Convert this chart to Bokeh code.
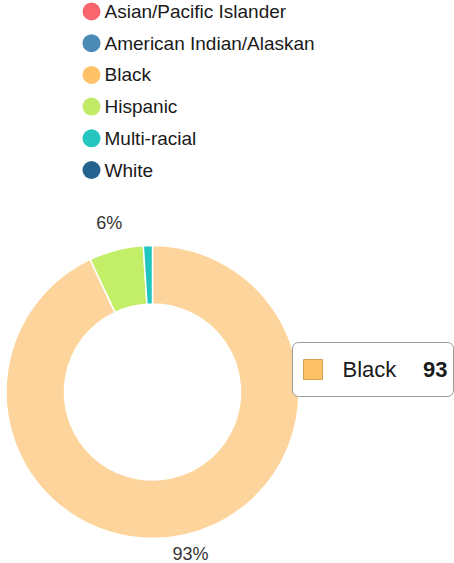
import numpy as np
from bokeh.plotting import figure
from bokeh.models import Range1d
from bokeh.core.properties import value
from bokeh.embed import file_html
from bokeh.resources import INLINE

# ---- data ----
categories = ["Asian/Pacific Islander", "American Indian/Alaskan", "Black",
              "Hispanic", "Multi-racial", "White"]
values = [0, 0, 93, 6, 1, 0]
legend_colors = ["#F8656D", "#4A8AB5", "#FFC266", "#C1EB67", "#26C6C0", "#23618E"]
slice_colors = ["#F8656D", "#4A8AB5", "#FDD49B", "#C3EE68", "#21C5C0", "#23618E"]
label_texts = ["", "", "93%", "6%", "", ""]
tooltip_category = "Black"
tooltip_value = 93

# ---- page geometry (reference pixel space) ----
OX, OY = 0, 0
W, H = 454, 563
FONT = "Liberation Sans"


def X(rx):
    return np.asarray(rx, dtype=float) - OX


def Y(ry):
    return H - (np.asarray(ry, dtype=float) - OY)


p = figure(width=W, height=H, x_range=Range1d(0, W), y_range=Range1d(0, H),
           output_backend="svg", toolbar_location=None, min_border=0,
           outline_line_color=None, background_fill_color="white",
           border_fill_color="white")
p.axis.visible = False
p.grid.visible = False

# ---- legend ----
row0, row_step = 11, 31.7
rows = [row0 + i * row_step for i in range(len(categories))]
p.scatter(X([91] * len(categories)), Y(rows), size=18, color=legend_colors,
          line_color=None, marker="circle")
p.text(X([104] * len(categories)), Y(rows), text=categories,
       text_font=value(FONT), text_font_size="19px", text_color="#1a1a1a",
       text_baseline="middle", text_align="left")

# ---- donut ----
cx, cy = 152, 391.5
r_out, r_in = 146.5, 88
total = float(sum(values))
fr = np.array(values) / total

# clockwise from 12 o'clock in this order
order = [2, 3, 4, 0, 1, 5]
starts, ends, cols, mids, labs = [], [], [], [], []
c = 0.0
for i in order:
    f = fr[i]
    if f <= 0:
        continue
    a0 = np.pi / 2 - (c + f) * 2 * np.pi
    a1 = np.pi / 2 - c * 2 * np.pi
    starts.append(a0)
    ends.append(a1)
    cols.append(slice_colors[i])
    mids.append(c + f / 2)
    labs.append(label_texts[i])
    c += f

p.annular_wedge(x=float(X(cx)), y=float(Y(cy)), inner_radius=r_in, outer_radius=r_out,
                start_angle=starts, end_angle=ends, fill_color=cols,
                line_color="white", line_width=1.5)

# data labels, kept inside the plot area like the original
R_lab = 174
lx, ly, lt = [], [], []
for m, t in zip(mids, labs):
    if not t:
        continue
    th = m * 2 * np.pi
    yr = min(cy - R_lab * np.cos(th), H - 10)
    lx.append(float(X(cx + R_lab * np.sin(th))))
    ly.append(float(Y(yr)))
    lt.append(t)
p.text(lx, ly, text=lt, text_font=value(FONT), text_font_size="18px",
       text_color="#333333", text_align="center", text_baseline="middle")

# ---- tooltip ----
ti = categories.index(tooltip_category)
p.quad(left=float(X(292)), right=float(X(453)), top=float(Y(342)), bottom=float(Y(396)),
       fill_color="white", fill_alpha=0.95, line_color="#9a9a9a", line_width=1,
       border_radius=6)
p.quad(left=float(X(303)), right=float(X(322)), top=float(Y(359)), bottom=float(Y(379)),
       fill_color=legend_colors[ti], line_color="#d9a050", line_width=1)
p.text([float(X(342))], [float(Y(369))], text=[tooltip_category],
       text_font=value(FONT), text_font_size="22px", text_color="#1a1a1a",
       text_baseline="middle", text_align="left")
p.text([float(X(447))], [float(Y(369))], text=[str(tooltip_value)],
       text_font=value(FONT), text_font_size="22px", text_font_style="bold",
       text_color="#1a1a1a", text_baseline="middle", text_align="right")

open("out.html", "w").write(file_html(p, INLINE))
